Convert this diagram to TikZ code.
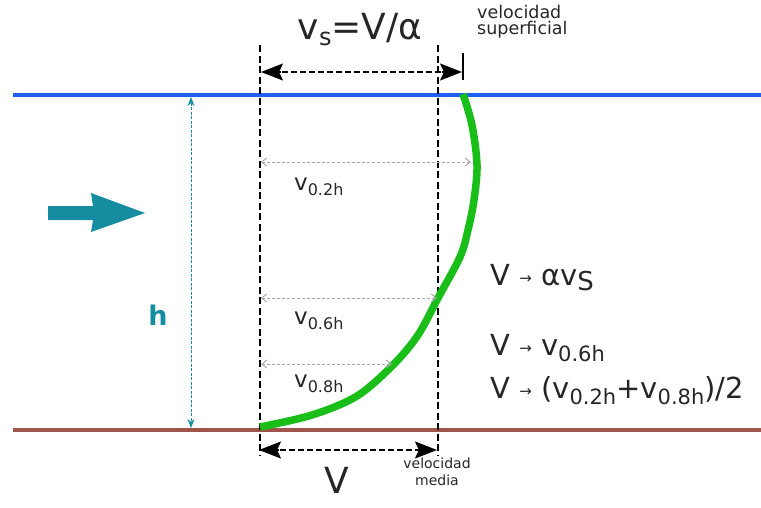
\documentclass[tikz,border=0pt]{standalone}
\usepackage{fontspec}
\setmainfont{DejaVu Sans}
\usetikzlibrary{arrows.meta,calc}
\definecolor{surf}{RGB}{30,95,245}
\definecolor{bed}{RGB}{160,85,75}
\definecolor{prof}{RGB}{25,190,25}
\definecolor{teal1}{RGB}{22,140,160}
\definecolor{lgray}{RGB}{165,165,165}
\newcommand{\fs}[1]{\fontsize{#1}{#1}\selectfont}
\newcommand{\sarr}{{\fs{15}\raisebox{0.2ex}{→}}}
\newcommand{\vsub}[1]{v\raisebox{-0.45ex}{\fs{16}#1}}
\tikzset{
  refline/.style={black, line width=1.6pt, dash pattern=on 7pt off 3.5pt},
  dimline/.style={black, line width=1.8pt, dash pattern=on 6pt off 3pt},
  dimtip/.style={black, line width=1.8pt, solid, -{Stealth[length=22pt,width=17pt,inset=4pt]}},
  grayarrow/.style={lgray, line width=0.9pt, dash pattern=on 3pt off 2pt, {Straight Barb[length=5pt,width=8pt]}-{Straight Barb[length=5pt,width=8pt]}},
  harrow/.style={teal1, line width=0.9pt, dash pattern=on 3pt off 1.5pt, {Stealth[length=9pt,width=7pt]}-{Stealth[length=9pt,width=7pt]}},
  txt/.style={inner sep=0pt, anchor=base west, text=black!85},
  smalltxt/.style={inner sep=0pt, text=black!85, font=\fontsize{14}{17}\selectfont},
}
\begin{document}
\begin{tikzpicture}[x=1pt,y=-1pt]
\useasboundingbox (0,0) rectangle (761,507);
% water surface and bed
\coordinate (sL) at (13,95); \coordinate (sR) at (761,95);
\coordinate (bL) at (13,430); \coordinate (bR) at (761,430);
\draw[surf, line width=3.5pt] (sL) -- (sR);
\draw[bed, line width=3.5pt] (bL) -- (bR);
% vertical reference lines
\coordinate (lT) at (260,45); \coordinate (lB) at (260,455);
\coordinate (rT) at (438,45); \coordinate (rB) at (438,455);
\draw[refline] (lT) -- (lB);
\draw[refline] (rT) -- (rB);
% tick at surface velocity
\coordinate (tT) at (463,53); \coordinate (tB) at (463,80);
\draw[black, line width=1.5pt] (tT) -- (tB);
% dimension arrows
\coordinate (a1) at (261,72); \coordinate (a2) at (462,72);
\draw[dimline, shorten <=12pt, shorten >=12pt] (a1) -- (a2);
\draw[dimtip] ($(a1)!20pt!(a2)$) -- (a1);
\draw[dimtip] ($(a2)!20pt!(a1)$) -- (a2);
\coordinate (b1) at (259,450); \coordinate (b2) at (437,450);
\draw[dimline, shorten <=12pt, shorten >=12pt] (b1) -- (b2);
\draw[dimtip] ($(b1)!20pt!(b2)$) -- (b1);
\draw[dimtip] ($(b2)!20pt!(b1)$) -- (b2);
% velocity profile
\draw[prof, line width=7.5pt] plot[smooth, tension=0.55] coordinates {(463,94) (472,125) (477,165) (474,200) (468,230) (460,257) (438,298) (418,335) (393,365) (357,396) (312,415) (260,427)};
% gray arrows
\coordinate (g1a) at (261,162); \coordinate (g1b) at (471,162);
\coordinate (g2a) at (261,298); \coordinate (g2b) at (437,298);
\coordinate (g3a) at (261,364); \coordinate (g3b) at (392,364);
\draw[grayarrow] (g1a) -- (g1b);
\draw[grayarrow] (g2a) -- (g2b);
\draw[grayarrow] (g3a) -- (g3b);
% depth arrow
\coordinate (h1) at (191,97); \coordinate (h2) at (191,428);
\draw[harrow] (h1) -- (h2);
\node[inner sep=0pt, anchor=base, text=teal1] (hlab) at (158,325) {\fs{27}\bfseries h};
% flow arrow
\fill[teal1] (48,206) -- (93,206) -- (91,193) -- (145,213) -- (91,232) -- (93,220) -- (48,220) -- cycle;
% texts
\node[txt, anchor=base] (vs) at (360,39) {\fs{36}v\raisebox{-0.35ex}{\fs{24}s}=V/α};
\node[smalltxt, align=left, anchor=base west, font=\fontsize{17.5}{16}\selectfont] (vsup) at (477,34) {velocidad\\superficial};
\node[txt] (l1) at (294,190) {\fs{23}\vsub{0.2h}};
\node[txt] (l2) at (294,324) {\fs{23}\vsub{0.6h}};
\node[txt] (l3) at (294,387) {\fs{23}\vsub{0.8h}};
\node[txt] (e1) at (490,285) {\fs{29}V \sarr{} αv\raisebox{-0.35ex}{\fs{26}S}};
\node[txt] (e2) at (490,355) {\fs{29}V \sarr{} v\raisebox{-0.4ex}{\fs{21}0.6h}};
\node[txt] (e3) at (490,398) {\fs{29}V \sarr{} (v\raisebox{-0.4ex}{\fs{21}0.2h}+v\raisebox{-0.4ex}{\fs{21}0.8h})/2};
\node[txt, anchor=base] (vm) at (337,493) {\fs{36}V};
\node[smalltxt, align=center, anchor=base] (vmed) at (437,485) {velocidad\\media};
\end{tikzpicture}
\end{document}
